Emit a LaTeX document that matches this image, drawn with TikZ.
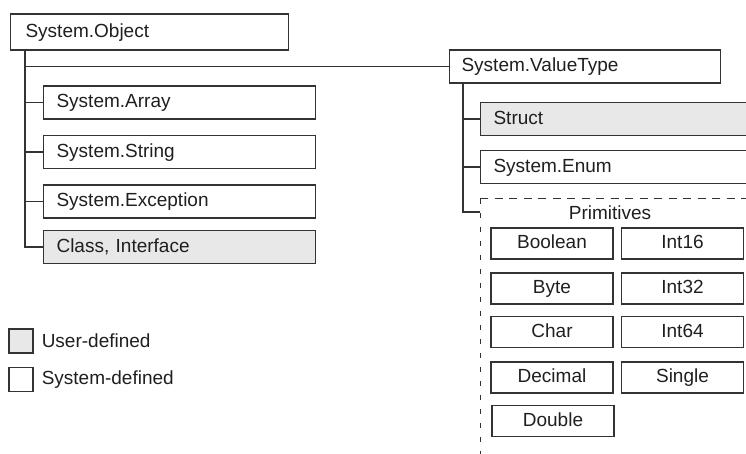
\documentclass[tikz,border=0pt]{standalone}
\usepackage{fontspec}
\setmainfont{Liberation Sans}
\usetikzlibrary{positioning}
\begin{document}
\begin{tikzpicture}[x=1pt,y=-1pt,
    font=\fontsize{19}{22}\selectfont,
    every node/.style={text=black!88},
    typebox/.style={draw=black!80, line width=1.1pt, minimum height=33pt, inner xsep=13pt,
      text width=246pt, align=left, anchor=west, text height=13.5pt, text depth=3pt},
    primbox/.style={draw=black!80, line width=1.1pt, minimum width=122pt, minimum height=31pt,
      inner sep=0pt, text height=13.5pt, text depth=3pt},
    keybox/.style={draw=black!80, line width=1.1pt, minimum size=24pt, inner sep=0pt},
    user/.style={fill=black!9},
    link/.style={draw=black!80, line width=1.1pt}]
  \useasboundingbox (0,0) rectangle (746,454);
  \clip (0,0) rectangle (746,454);
  % System.Object and its subclasses
  \node[typebox, minimum height=36pt, text width=248pt, inner xsep=15pt] (obj) at (10,32) {System.Object};
  \node[typebox] (arr) at (43,102.5) {System.Array};
  \node[typebox] (str) at (43,152) {System.String};
  \node[typebox] (exc) at (43,201.5) {System.Exception};
  \node[typebox, user] (cls) at (43,247) {Class, Interface};
  \node[typebox, text width=247pt, inner xsep=12pt] (vt) at (449,66.5) {System.ValueType};
  % value types
  \node[typebox, user, text width=264pt] (struct) at (480,119) {Struct};
  \node[typebox, text width=264pt] (enum) at (480,167) {System.Enum};
  \node (primlbl) at (610,213) {Primitives};
  \foreach \a/\b/\y in {Boolean/Int16/243.5, Byte/Int32/288.5, Char/Int64/332, Decimal/Single/377.5}{
    \node[primbox] (\a) at (552,\y) {\a};
    \node[primbox] (\b) at (682.5,\y) {\b};
  }
  \node[primbox] (Double) at (553,421) {Double};
  \draw[link, line width=1pt, dash pattern=on 8pt off 6.5pt] (480,199) -- (760,199);
  \draw[link, line width=1pt, dash pattern=on 5pt off 9pt] (480,199) -- (480,460);
  % tree lines
  \coordinate (objt) at ([xshift=15pt]obj.south west);
  \draw[link] (objt) |- (cls.west);
  \foreach \n in {arr,str,exc,vt} \draw[link] (objt |- \n.west) -- (\n.west);
  \coordinate (vtt) at ([xshift=14pt]vt.south west);
  \coordinate (prim) at (480,212);
  \draw[link] (vtt) |- (prim);
  \foreach \n in {struct,enum} \draw[link] (vtt |- \n.west) -- (\n.west);
  % legend
  \node[keybox, user] (ukey) at (21,341) {};
  \node[right=8pt of ukey, inner sep=0pt] (ulbl) {User-defined};
  \node[keybox] (skey) at (21,379.5) {};
  \node[right=8pt of skey, inner sep=0pt] (slbl) {System-defined};
\end{tikzpicture}
\end{document}
